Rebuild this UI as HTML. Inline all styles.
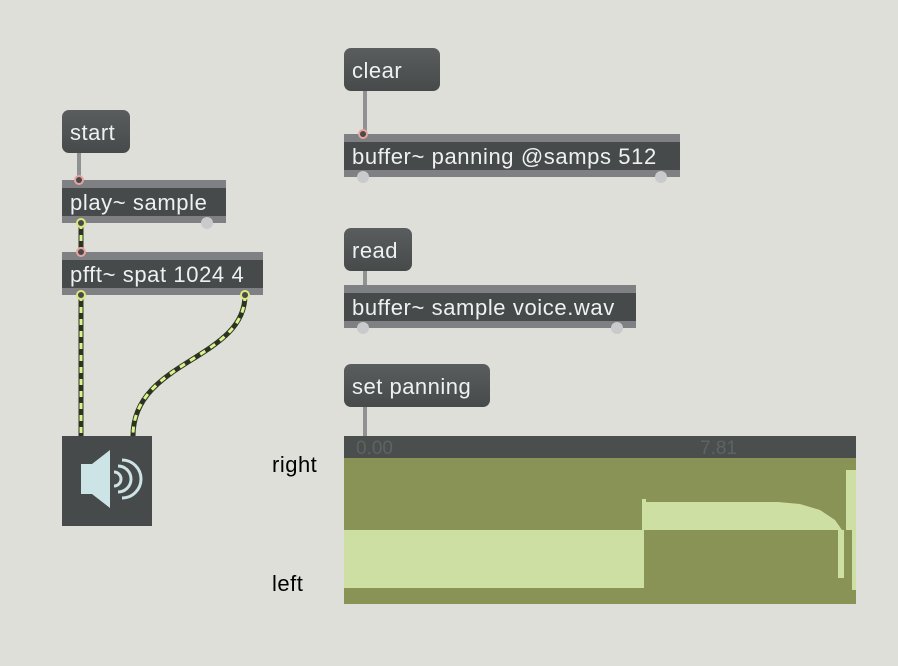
<!DOCTYPE html>
<html><head><style>
body{margin:0;width:898px;height:666px;background:#dfdfda;position:relative;overflow:hidden;font-family:"Liberation Sans",sans-serif}
.msg{position:absolute;background:linear-gradient(#5a5d5e,#474a4a);border-radius:7px;color:#eef0f2;font-size:22px;letter-spacing:0.5px;line-height:46px;padding-left:8px;box-sizing:border-box;height:43px;white-space:nowrap}
.obj{position:absolute;height:43px;background:#474a4a;border-top:8px solid #7e8084;border-bottom:7px solid #7e8084;box-sizing:border-box;color:#eef0f2;font-size:22px;letter-spacing:0.6px;line-height:30px;padding-left:8px;white-space:nowrap;overflow:hidden}
.lbl{position:absolute;font-size:22px;letter-spacing:0.5px;color:#000}
</style></head><body>
<svg width="898" height="666" style="position:absolute;left:0;top:0">
<line x1="365" y1="91" x2="365" y2="134" stroke="#8f9193" stroke-width="4"/>
<line x1="79" y1="153" x2="79" y2="180" stroke="#8f9193" stroke-width="4"/>
<line x1="365" y1="270" x2="365" y2="285" stroke="#8f9193" stroke-width="4"/>
<line x1="365" y1="407" x2="365" y2="436" stroke="#8f9193" stroke-width="4"/>
<g fill="none" stroke-width="5">
<path d="M81 223 V252" stroke="#2c3320"/>
<path d="M81 223 V252" stroke="#d8f48a" stroke-width="3" stroke-dasharray="6 6"/>
<path d="M81 295 V436" stroke="#2c3320"/>
<path d="M81 295 V436" stroke="#d8f48a" stroke-width="3" stroke-dasharray="6 6"/>
<path d="M245 295 C245 360 133 360 133 436" stroke="#2c3320"/>
<path d="M245 295 C245 360 133 360 133 436" stroke="#d8f48a" stroke-width="3" stroke-dasharray="6 6"/>
</g>
</svg>
<div class="msg" style="left:344px;top:48px;width:96px">clear</div>
<div class="obj" style="left:344px;top:134px;width:336px">buffer~ panning @samps 512</div>
<div class="msg" style="left:62px;top:110px;width:68px">start</div>
<div class="obj" style="left:62px;top:180px;width:164px">play~ sample</div>
<div class="obj" style="left:62px;top:252px;width:201px">pfft~ spat 1024 4</div>
<div class="msg" style="left:344px;top:228px;width:68px">read</div>
<div class="obj" style="left:344px;top:285px;width:292px">buffer~ sample voice.wav</div>
<div class="msg" style="left:344px;top:364px;width:146px">set panning</div>
<svg width="898" height="666" style="position:absolute;left:0;top:0">
<g fill="#c8cacc">
<circle cx="79" cy="180" r="5" fill="#e8a49c"/><circle cx="79" cy="180" r="3" fill="#474a4a"/>
<circle cx="81" cy="223" r="5" fill="#dfe67a"/><circle cx="81" cy="223" r="3" fill="#474a4a"/>
<circle cx="207" cy="223" r="6"/>
<circle cx="81" cy="252" r="5" fill="#e8a49c"/><circle cx="81" cy="252" r="3" fill="#474a4a"/>
<circle cx="81" cy="295" r="5" fill="#dfe67a"/><circle cx="81" cy="295" r="3" fill="#474a4a"/>
<circle cx="245" cy="295" r="5" fill="#dfe67a"/><circle cx="245" cy="295" r="3" fill="#474a4a"/>
<circle cx="363" cy="134" r="5" fill="#e8a49c"/><circle cx="363" cy="134" r="3" fill="#474a4a"/>
<circle cx="363" cy="177" r="6"/><circle cx="661" cy="177" r="6"/>
<circle cx="363" cy="328" r="6"/><circle cx="617" cy="328" r="6"/>
</g>
<rect x="62" y="436" width="90" height="90" fill="#474a4a"/>
<polygon points="81,464 92,464 110,450 110,508 92,494 81,494" fill="#cde4e6"/>
<path d="M114 472 a7 7 0 0 1 0 14 M118 466 a13 13 0 0 1 0 26 M122 460 a19 19 0 0 1 0 38" stroke="#cde4e6" stroke-width="3" fill="none"/>
<rect x="344" y="436" width="512" height="22" fill="#4a4e4d"/>
<text x="356" y="454" font-family="Liberation Sans" font-size="19" fill="#5e6363">0.00</text>
<text x="700" y="454" font-family="Liberation Sans" font-size="19" fill="#5e6363">7.81</text>
<rect x="344" y="458" width="512" height="146" fill="#8a9356"/>
<rect x="344" y="530" width="300" height="58" fill="#cddfa2"/>
<path d="M642 530 V499 H646 V502 H778 L800 504 L820 510 L835 520 L842 530 Z" fill="#cddfa2"/>
<rect x="846" y="470" width="10" height="60" fill="#cddfa2"/>
<rect x="838" y="530" width="6" height="48" fill="#cddfa2"/>
<rect x="852" y="530" width="4" height="60" fill="#cddfa2"/>
</svg>
<div class="lbl" style="left:272px;top:452px">right</div>
<div class="lbl" style="left:272px;top:571px">left</div>
</body></html>
